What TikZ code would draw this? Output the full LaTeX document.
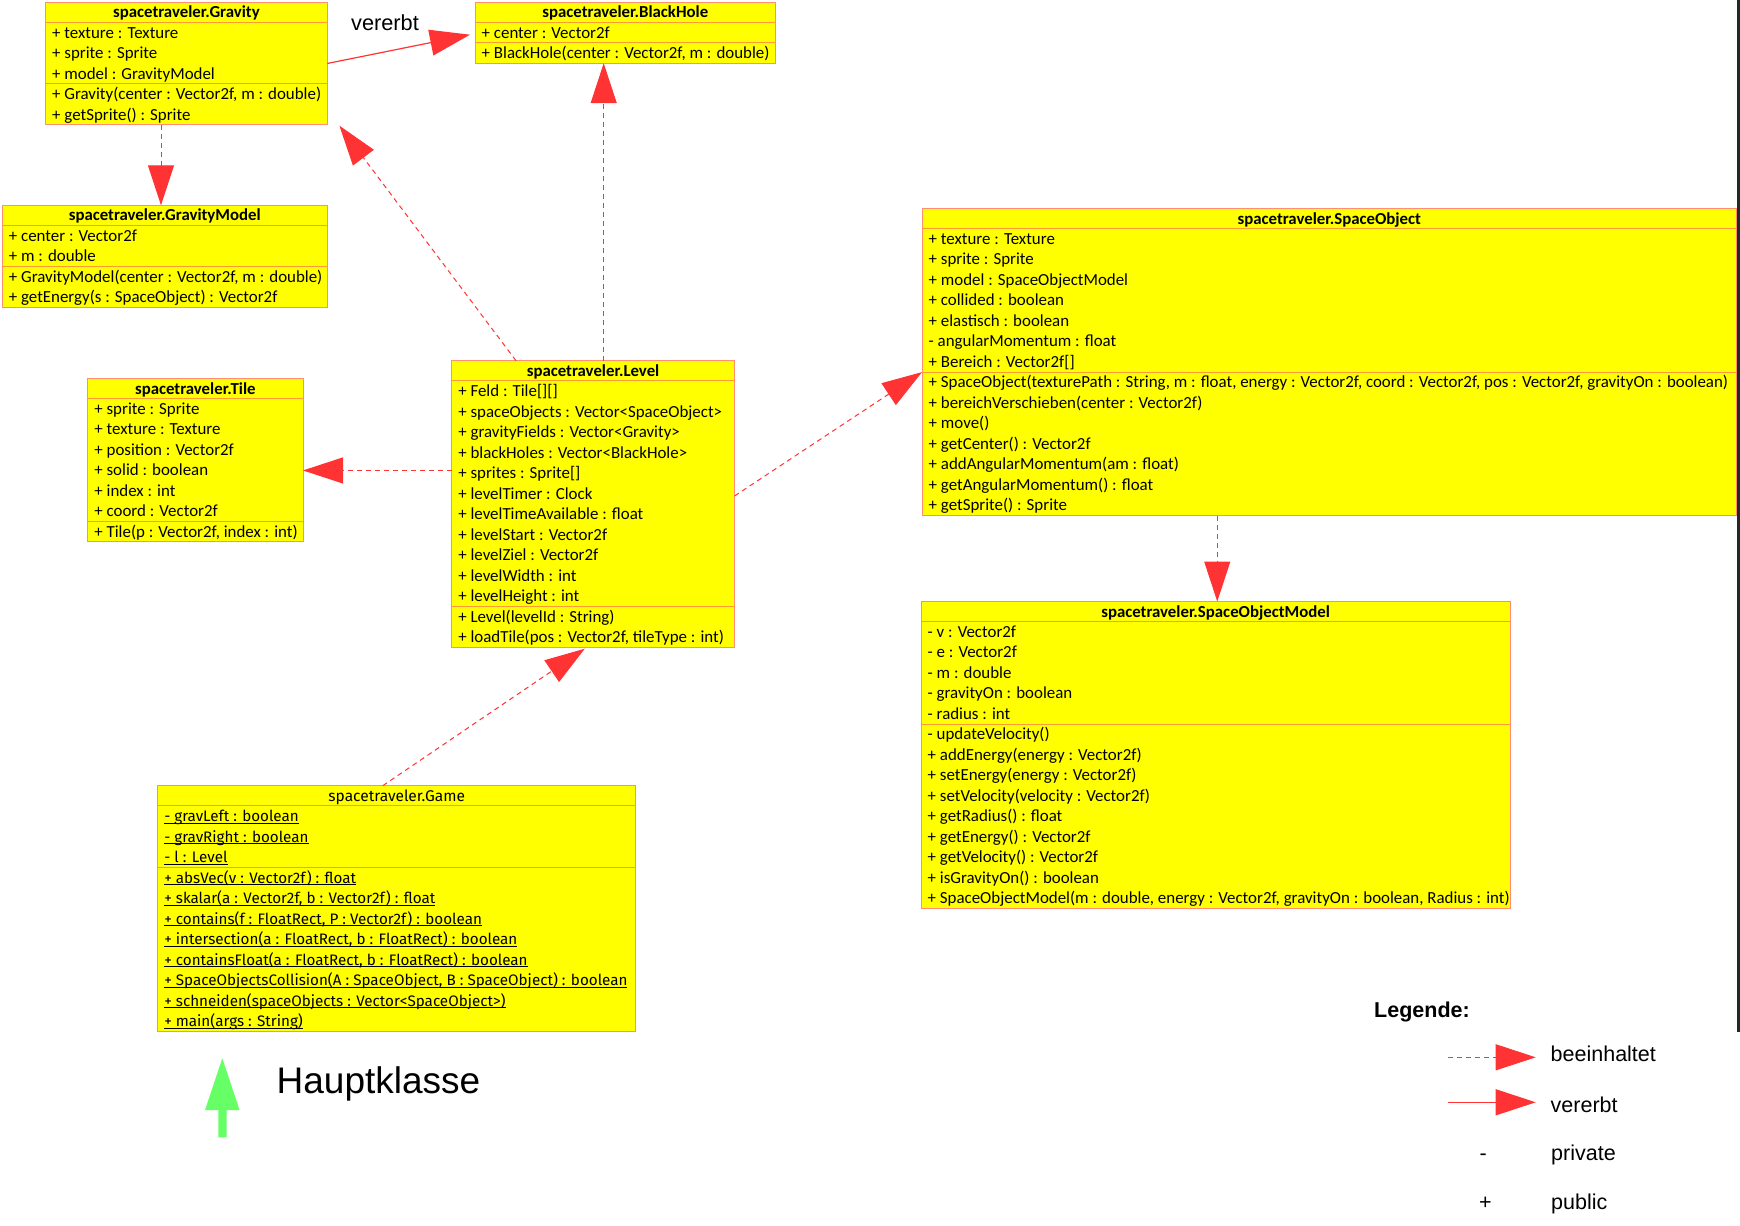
\documentclass[tikz,border=0pt]{standalone}
\usepackage{fontspec}
\setmainfont{Liberation Sans}
\newfontfamily\boxfont{Carlito}
\newfontfamily\gamefont{Fira Sans}
\usetikzlibrary{arrows.meta,calc}
\definecolor{boxyellow}{HTML}{FFFF00}
\definecolor{boxedge}{HTML}{FF8F70}
\definecolor{divcol}{HTML}{FF9933}
\definecolor{arrred}{HTML}{FF3333}
\definecolor{hkgreen}{HTML}{66FF66}
\newcommand\gamerow[1]{{\gamefont\fontsize{15.2}{15.2}\selectfont\setbox0\hbox{#1}\rlap{\rule[-2.2pt]{\wd0}{0.9pt}}\box0}}
\newcommand\umlbox[9]{%
  \pgfmathsetmacro\umlbh{20+(#5+#6)*20.5}%
  \pgfmathsetmacro\umldy{20+#5*20.5}%
  \node[classbox, minimum width=#4pt, minimum height=\umlbh pt, anchor=north west] (#1) at (#2,#3) {};
  \node[titletext] (#1-title) at ([yshift=-15.6pt]#1.north) {#7};
  \draw[divline] ([yshift=-20pt]#1.north west) -- ([yshift=-20pt]#1.north east);
  \draw[divline] ([yshift=-\umldy pt]#1.north west) -- ([yshift=-\umldy pt]#1.north east);
  \foreach \rowtxt [count=\i] in {#8} {%
    \pgfmathsetmacro\umlry{20+(\i-0.5)*20.5+5.6}%
    \node[rowtext] (#1-a\i) at ([xshift=6.5pt,yshift=-\umlry pt]#1.north west) {\rowtxt};}
  \foreach \rowtxt [count=\i] in {#9} {%
    \pgfmathsetmacro\umlry{\umldy+(\i-0.5)*20.5+5.6}%
    \node[rowtext] (#1-m\i) at ([xshift=6.5pt,yshift=-\umlry pt]#1.north west) {\rowtxt};}
}
\tikzset{
  classbox/.style={draw=boxedge, fill=boxyellow, line width=1pt, inner sep=0pt, outer sep=0pt},
  divline/.style={draw=divcol, line width=0.9pt},
  titletext/.style={font=\boxfont\bfseries\fontsize{16.8}{16.8}\selectfont, inner sep=0pt, anchor=base},
  rowtext/.style={font=\boxfont\fontsize{16.9}{16.9}\selectfont, inner sep=0pt, anchor=base west},
  contains/.style={draw=arrred, line width=1pt, dash pattern=on 5pt off 4pt, -{Triangle[length=40pt,width=26pt,fill=arrred]}},
  inherits/.style={draw=arrred, line width=1.2pt, -{Triangle[length=40pt,width=26pt,fill=arrred]}},
  legtext/.style={font=\fontsize{21.5}{21.5}\selectfont, inner sep=0pt, anchor=base west},
}
\begin{document}
\begin{tikzpicture}[x=1pt,y=-1pt]
\useasboundingbox (0,0) rectangle (1740,1226);
\fill[white] (0,0) rectangle (1740,1226);

\umlbox{grav}{45.5}{2.2}{281.9}{3}{2}{spacetraveler.Gravity}%
{{+ texture : Texture},{+ sprite : Sprite},{+ model : GravityModel}}%
{{+ Gravity(center : Vector2f, m : double)},{+ getSprite() : Sprite}}

\umlbox{bh}{475}{2.2}{300.7}{1}{1}{spacetraveler.BlackHole}%
{{+ center : Vector2f}}%
{{+ BlackHole(center : Vector2f, m : double)}}

\umlbox{gm}{2.2}{205.3}{325.2}{2}{2}{spacetraveler.GravityModel}%
{{+ center : Vector2f},{+ m : double}}%
{{+ GravityModel(center : Vector2f, m : double)},{+ getEnergy(s : SpaceObject) : Vector2f}}

\umlbox{tile}{87.7}{378.4}{215.3}{6}{1}{spacetraveler.Tile}%
{{+ sprite : Sprite},{+ texture : Texture},{+ position : Vector2f},{+ solid : boolean},{+ index : int},{+ coord : Vector2f}}%
{{+ Tile(p : Vector2f, index : int)}}

\umlbox{lvl}{451.6}{360.7}{283}{11}{2}{spacetraveler.Level}%
{{+ Feld : Tile[][]},{+ spaceObjects : Vector<SpaceObject>},{+ gravityFields : Vector<Gravity>},{+ blackHoles : Vector<BlackHole>},{+ sprites : Sprite[]},{+ levelTimer : Clock},{+ levelTimeAvailable : float},{+ levelStart : Vector2f},{+ levelZiel : Vector2f},{+ levelWidth : int},{+ levelHeight : int}}%
{{+ Level(levelId : String)},{+ loadTile(pos : Vector2f, tileType : int)}}

\umlbox{so}{922}{208.6}{814.7}{7}{7}{spacetraveler.SpaceObject}%
{{+ texture : Texture},{+ sprite : Sprite},{+ model : SpaceObjectModel},{+ collided : boolean},{+ elastisch : boolean},{- angularMomentum : float},{+ Bereich : Vector2f[]}}%
{{+ SpaceObject(texturePath : String, m : float, energy : Vector2f, coord : Vector2f, pos : Vector2f, gravityOn : boolean)},{+ bereichVerschieben(center : Vector2f)},{+ move()},{+ getCenter() : Vector2f},{+ addAngularMomentum(am : float)},{+ getAngularMomentum() : float},{+ getSprite() : Sprite}}

\umlbox{som}{921}{601.5}{589.3}{5}{9}{spacetraveler.SpaceObjectModel}%
{{- v : Vector2f},{- e : Vector2f},{- m : double},{- gravityOn : boolean},{- radius : int}}%
{{- updateVelocity()},{+ addEnergy(energy : Vector2f)},{+ setEnergy(energy : Vector2f)},{+ setVelocity(velocity : Vector2f)},{+ getRadius() : float},{+ getEnergy() : Vector2f},{+ getVelocity() : Vector2f},{+ isGravityOn() : boolean},{+ SpaceObjectModel(m : double, energy : Vector2f, gravityOn : boolean, Radius : int)}}

\umlbox{game}{157.6}{785.7}{478.3}{3}{8}{{\gamefont\mdseries\fontsize{15.5}{15.5}\selectfont spacetraveler.Game}}%
{{\gamerow{- gravLeft : boolean}},{\gamerow{- gravRight : boolean}},{\gamerow{- l : Level}}}%
{{\gamerow{+ absVec(v : Vector2f) : float}},{\gamerow{+ skalar(a : Vector2f, b : Vector2f) : float}},{\gamerow{+ contains(f : FloatRect, P : Vector2f) : boolean}},{\gamerow{+ intersection(a : FloatRect, b : FloatRect) : boolean}},{\gamerow{+ containsFloat(a : FloatRect, b : FloatRect) : boolean}},{\gamerow{+ SpaceObjectsCollision(A : SpaceObject, B : SpaceObject) : boolean}},{\gamerow{+ schneiden(spaceObjects : Vector<SpaceObject>)}},{\gamerow{+ main(args : String)}}}

% connectors
\coordinate (bhin) at ([xshift=-5pt,yshift=-2pt]bh.west);
\draw[inherits] (grav.east) -- (bhin);
\node[font=\fontsize{21.75}{21.75}\selectfont, anchor=base, inner sep=0pt] (lbl-vererbt) at (385,30) {vererbt};

\coordinate (lvlgrav) at ([xshift=64.4pt]lvl.north west);
\draw[contains] (lvlgrav) -- ([xshift=12pt,yshift=-1pt]grav.south east);

\coordinate (bhbot) at ([xshift=128.7pt]bh.south west);
\draw[contains] (lvl.north -| bhbot) -- (bhbot);

\coordinate (tileend) at ([yshift=-10.3pt]tile.east);
\draw[contains] (lvl.west |- tileend) -- (tileend);

\coordinate (soend) at ([yshift=-163.5pt]so.north west);
\draw[contains] ([yshift=8pt]lvl.east) -- (soend);

\coordinate (lvlbot) at ([xshift=-8.3pt,yshift=-1.5pt]lvl.south);
\draw[contains] ([xshift=-14pt]game.north) -- (lvlbot);

\coordinate (somtop) at ([xshift=1.6pt]som.north);
\draw[contains] (so.south -| somtop) -- (somtop);

\coordinate (gmtop) at ([xshift=-3.8pt]gm.north);
\draw[contains] (grav.south -| gmtop) -- (gmtop);

% main class marker
\fill[hkgreen] (218.3,1137.3) -- (218.3,1110) -- (205,1110) -- (222.3,1058.3) -- (239.5,1110) -- (226.5,1110) -- (226.5,1137.3) -- cycle;
\node[font=\fontsize{37}{37}\selectfont, anchor=base west, inner sep=0pt] (hauptklasse) at (276.5,1093.3) {Hauptklasse};

% legend
\node[font=\bfseries\fontsize{21.5}{21.5}\selectfont, anchor=base west, inner sep=0pt] (leg-title) at (1374,1017.3) {Legende:};
\coordinate (leg1a) at (1448.3,1057.3);
\coordinate (leg1b) at (1535.7,1057.3);
\draw[contains] (leg1a) -- (leg1b);
\node[legtext] (leg1t) at (1550.5,1061.7) {beeinhaltet};
\coordinate (leg2a) at (1448.3,1102.3);
\coordinate (leg2b) at (1535.7,1102.3);
\draw[inherits] (leg2a) -- (leg2b);
\node[legtext] (leg2t) at (1550.5,1112.7) {vererbt};
\node[legtext] (leg3s) at (1479.5,1160) {-};
\node[legtext] (leg3t) at (1551,1160) {private};
\node[legtext] (leg4s) at (1479,1209.5) {+};
\node[legtext] (leg4t) at (1551,1209.3) {public};

% right border line
\coordinate (edgetop) at (1738.5,0);
\coordinate (edgebot) at (1738.5,1032);
\draw[line width=2.5pt, black!85] (edgetop) -- (edgebot);
\end{tikzpicture}
\end{document}
